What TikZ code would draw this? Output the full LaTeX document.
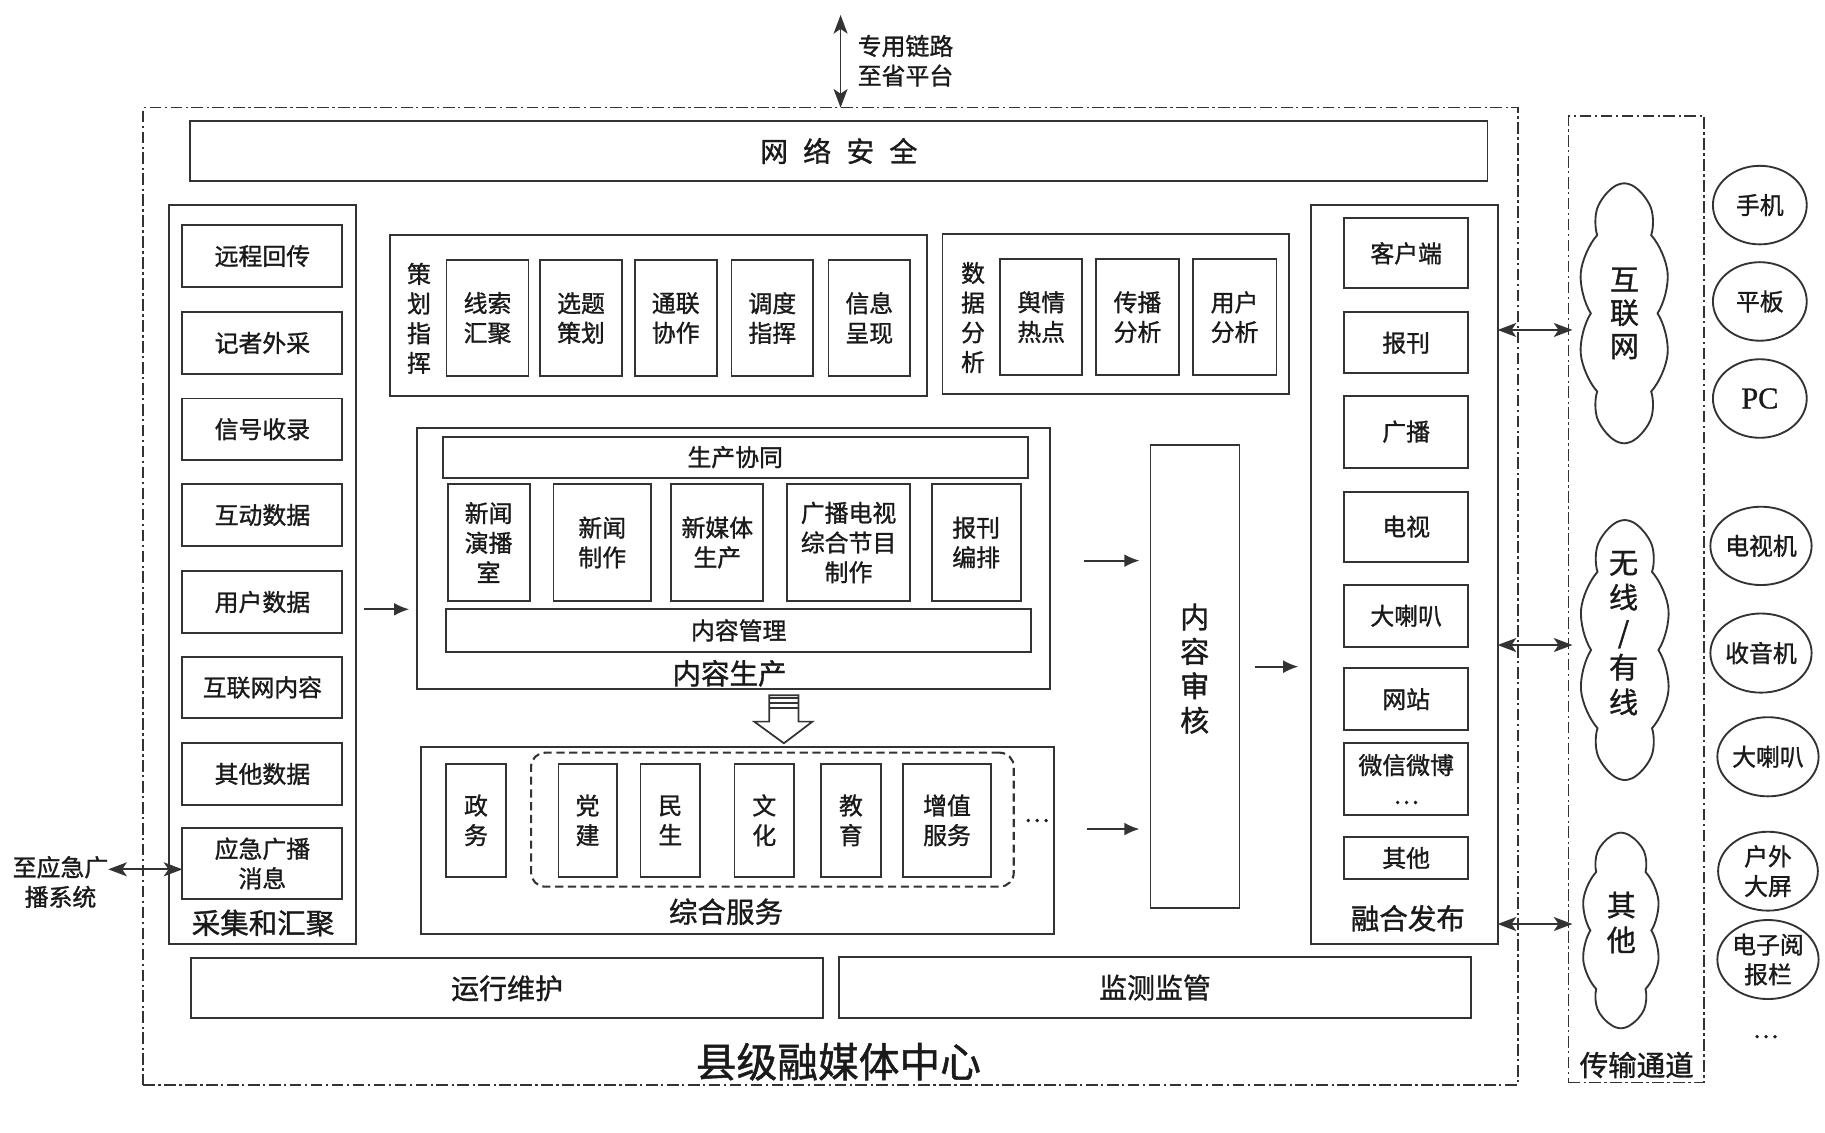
\documentclass[tikz,border=0pt]{standalone}
\usepackage{fontspec}
\setmainfont{Noto Sans CJK SC}[FakeBold=1.2]
\newfontfamily\pcfont{Liberation Serif}[FakeBold=1]
\usetikzlibrary{arrows.meta,shapes.symbols,shapes.geometric}
\definecolor{ln}{HTML}{333333}
\definecolor{tx}{HTML}{1A1A1A}
\newcommand\myfs[2]{\fontsize{#1}{#2}\selectfont}
\begin{document}
\begin{tikzpicture}[x=1pt,y=-1pt,
  every node/.style={inner sep=0pt,outer sep=0pt,text=tx,align=center,font=\myfs{20.5}{25.5}},
  bx/.style 2 args={draw=ln,line width=1.6pt,minimum width=#1,minimum height=#2},
  ddline/.style={draw=ln,line width=1.3pt,dash pattern=on 10pt off 3pt on 2pt off 3pt},
  hdr/.style={font=\myfs{24.5}{29}},
  arr/.style={draw=ln,line width=1.5pt,-{Latex[length=13pt,width=11pt]}},
  dbl/.style={draw=ln,line width=1.5pt,{Stealth[length=16pt,width=12pt,inset=4pt]}-{Stealth[length=16pt,width=12pt,inset=4pt]}},
  cld/.style 2 args={cloud,draw=ln,line width=1.6pt,cloud puffs=10,cloud puff arc=75,cloud ignores aspect,minimum width=#1,minimum height=#2},
  dev/.style 2 args={ellipse,draw=ln,line width=1.6pt,minimum width=#1,minimum height=#2},
]
\useasboundingbox (0,0) rectangle (1568,973);

% outer frame
\node[ddline,minimum width=1181,minimum height=839.5] (outer) at (713.5,512.25) {};
\node[font=\myfs{35}{40}] (outerlbl) at (720.3,912.2) {县级融媒体中心};

% top link
\coordinate (toplink) at (722.2,12.9);
\draw[dbl] (toplink) -- (toplink |- outer.north);
\node[anchor=west,align=left] (toptxt) at (737,52.2) {专用链路\\至省平台};

% network security
\node[bx={1114.7}{51.5},font=\myfs{24}{28}] (sec) at (720.65,129.75) {网\hspace{13pt}络\hspace{13pt}安\hspace{13pt}全};

% collection column
\node[bx={161}{635}] (cj) at (225.5,493.5) {};
\node[hdr] (cjlbl) at (226,793) {采集和汇聚};
\node[bx={137.5}{52.7}] (cj1) at (225.45,219.95) {远程回传};
\node[bx={137.5}{52.7}] (cj2) at (225.45,294.65) {记者外采};
\node[bx={137.5}{52.7}] (cj3) at (225.45,368.75) {信号收录};
\node[bx={137.5}{52.7}] (cj4) at (225.45,442.45) {互动数据};
\node[bx={137.5}{52.7}] (cj5) at (225.45,517.25) {用户数据};
\node[bx={137.5}{52.7}] (cj6) at (225.45,590.55) {互联网内容};
\node[bx={137.5}{52.7}] (cj7) at (225.45,664.95) {其他数据};
\node[bx={137.5}{60.4}] (cj8) at (225.45,741.9) {应急广播\\消息};

% emergency broadcast
\node (yjtxt) at (52,757.8) {至应急广\\播系统};
\draw[dbl] (yjtxt.east |- 0,746.9) -- (cj8.west |- 0,746.9);

% planning
\node[bx={460.9}{138}] (ch) at (565.75,271.2) {};
\node (chlbl) at (360,273.5) {策\\划\\指\\挥};
\node[bx={70.5}{99.5}] (ch1) at (418.85,273.25) {线索\\汇聚};
\node[bx={70.1}{99.5}] (ch2) at (499.2,273.25) {选题\\策划};
\node[bx={70.5}{99.5}] (ch3) at (580.55,273.25) {通联\\协作};
\node[bx={70.1}{99.5}] (ch4) at (663.55,273.25) {调度\\指挥};
\node[bx={70.1}{99.5}] (ch5) at (746.85,273.25) {信息\\呈现};

% data analysis
\node[bx={298}{137.5}] (sj) at (958.8,270.05) {};
\node (sjlbl) at (836,272.8) {数\\据\\分\\析};
\node[bx={70.5}{99.4}] (sj1) at (894.65,272.5) {舆情\\热点};
\node[bx={71.4}{99.4}] (sj2) at (977.3,272.5) {传播\\分析};
\node[bx={72}{99.4}] (sj3) at (1060.7,272.5) {用户\\分析};

% content production
\node[bx={543.7}{224}] (nr) at (630.45,479.7) {};
\node[hdr] (nrlbl) at (626.8,578.5) {内容生产};
\node[bx={502.7}{35.2}] (nrtop) at (631.65,392.8) {生产协同};
\node[bx={502.7}{36.8}] (nrbot) at (634.65,541.6) {内容管理};
\node[bx={70.4}{100}] (nr1) at (419.8,466.1) {新闻\\演播\\室};
\node[bx={83.7}{100}] (nr2) at (517.45,466.1) {新闻\\制作};
\node[bx={79}{100}] (nr3) at (616.3,466.1) {新媒体\\生产};
\node[bx={105.5}{100}] (nr4) at (729.05,466.1) {广播电视\\综合节目\\制作};
\node[bx={76.6}{100}] (nr5) at (838.7,466.1) {报刊\\编排};

% hollow arrow
\draw[draw=ln,line width=1.5pt,fill=white,line join=miter]
  (661,597.4) -- (686,597.4) -- (686,620) -- (698,620) -- (673.5,638.6) -- (648,620) -- (661,620) -- cycle;
\draw[ln,line width=1.8pt] (661,600) -- (686,600) (661,604) -- (686,604) (661,608) -- (686,608);

% integrated services
\node[bx={543.7}{161.2}] (zh) at (633.45,722.1) {};
\node[hdr] (zhlbl) at (623.8,783.3) {综合服务};
\node[draw=ln,line width=1.8pt,dash pattern=on 7pt off 4pt,rounded corners=12pt,minimum width=414.7,minimum height=115.1] (zhdash) at (663.65,704.25) {};
\node[bx={51.3}{96.8}] (zh1) at (408.95,704.8) {政\\务};
\node[bx={50}{96.8}] (zh2) at (504.8,704.8) {党\\建};
\node[bx={51.2}{96.8}] (zh3) at (575.9,704.8) {民\\生};
\node[bx={51.3}{96.8}] (zh4) at (656.65,704.8) {文\\化};
\node[bx={51.8}{96.8}] (zh5) at (731.1,704.8) {教\\育};
\node[bx={75.9}{96.8}] (zh6) at (813.65,704.8) {增值\\服务};
\node (zhdots) at (890.8,705) {…};

% content review
\node[bx={76.4}{398.1}] (sh) at (1026.7,581.35) {};
\node[font=\myfs{25}{29.6}] (shlbl) at (1026.5,574.5) {内\\容\\审\\核};

% publishing
\node[bx={160.7}{635.5}] (rh) at (1206.35,493.65) {};
\node[hdr] (rhlbl) at (1209.6,789) {融合发布};
\node[bx={106.5}{60.1}] (rh1) at (1208.15,217.65) {客户端};
\node[bx={106.5}{52.4}] (rh2) at (1208.15,294.5) {报刊};
\node[bx={106.5}{61.8}] (rh3) at (1208.15,370.9) {广播};
\node[bx={106.5}{60.2}] (rh4) at (1208.15,452.5) {电视};
\node[bx={106.5}{53}] (rh5) at (1208.15,529.1) {大喇叭};
\node[bx={106.5}{53}] (rh6) at (1208.15,600.7) {网站};
\node[bx={106.5}{61.6}] (rh7) at (1208.15,669.4) {微信微博\\…};
\node[bx={106.5}{35.6}] (rh8) at (1208.15,737.2) {其他};

% bottom bars
\node[bx={543.3}{51.5},font=\myfs{24}{28}] (yx) at (435.65,849.15) {运行维护};
\node[bx={542.9}{52.9},font=\myfs{24}{28}] (jc) at (992.35,848.45) {监测监管};

% transmission channel
\node[ddline,minimum width=116.6,minimum height=830.5] (cs) at (1405.8,514.95) {};
\node[hdr] (cslbl) at (1406.2,915) {传输通道};
\node[cld={78.5}{223.4}] (net1) at (1395.45,269.2) {};
\node[font=\myfs{25}{28.6}] (net1lbl) at (1395.7,269.2) {互\\联\\网};
\node[cld={79}{223.4}] (net2) at (1395.95,558.5) {};
\node[font=\myfs{25}{30}] (net2lbl) at (1394.9,544) {无\\线\\/\\有\\线};
\node[cld={67.8}{168.1}] (net3) at (1392.6,799.45) {};
\node[font=\myfs{25}{30}] (net3lbl) at (1393,792.6) {其\\他};

% connectors
\draw[arr,shorten <=7pt,shorten >=7pt] (cj.east |- 0,523.5) -- (nr.west |- 0,523.5);
\draw[arr,shorten <=29pt,shorten >=9.5pt] (nr.east |- 0,481.7) -- (sh.west |- 0,481.7);
\draw[arr,shorten <=28.5pt,shorten >=9.5pt] (zh.east |- 0,712.3) -- (sh.west |- 0,712.3);
\draw[arr,shorten <=13.5pt,shorten >=10.5pt] (sh.east |- 0,572.8) -- (rh.west |- 0,572.8);
\draw[dbl,shorten >=-3.5pt] (rh.east |- 0,283.5) -- (cs.west |- 0,283.5);
\draw[dbl,shorten >=-3.5pt] (rh.east |- 0,554.2) -- (cs.west |- 0,554.2);
\draw[dbl,shorten >=-3.5pt] (rh.east |- 0,793.9) -- (cs.west |- 0,793.9);

% devices
\node[dev={80.6}{67.5}] (d1) at (1512,176.2) {手机};
\node[dev={80.6}{67.5}] (d2) at (1512,259) {平板};
\node[dev={80.6}{67.5},font=\pcfont\myfs{26}{30}] (d3) at (1512,342.4) {PC};
\node[dev={85}{67.3}] (d4) at (1513,469) {电视机};
\node[dev={85}{68}] (d5) at (1513,561.1) {收音机};
\node[dev={86}{68}] (d6) at (1519,650.2) {大喇叭};
\node[dev={85.7}{67.8}] (d7) at (1519,748.5) {户外\\大屏};
\node[dev={85.7}{67.9}] (d8) at (1519,824.4) {电子阅\\报栏};
\node (ddots) at (1517,890.7) {…};
\end{tikzpicture}
\end{document}
